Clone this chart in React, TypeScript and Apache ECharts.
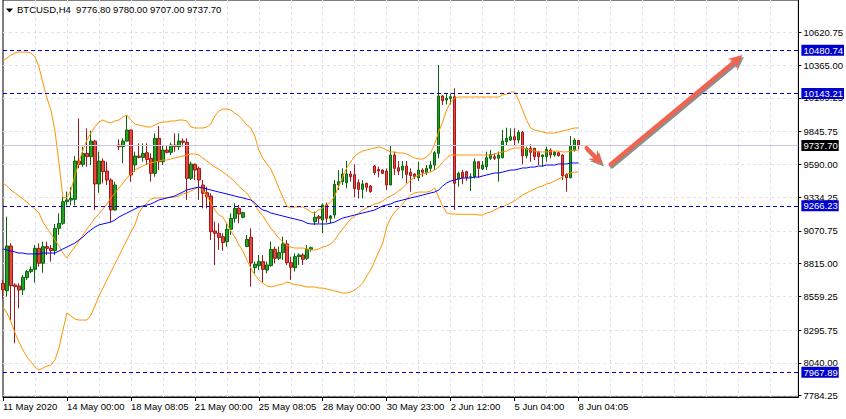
import React, { useEffect, useRef } from 'react';
import * as echarts from 'echarts';

const SYMBOL = 'BTCUSD,H4';
const FONT = '"Liberation Sans", Arial, sans-serif';
const SLOT_COUNT = 200;
const TIME_LABELS = ['11 May 2020', '14 May 00:00', '18 May 08:05', '21 May 00:00', '25 May 08:05', '28 May 00:00', '30 May 23:00', '2 Jun 12:00', '5 Jun 04:00', '8 Jun 04:05'];
const LABEL_STEP = 16;
const GRID_STEP = 8;
const Y_TICKS = [7784.25, 8040.0, 8295.75, 8559.25, 8815.0, 9070.75, 9334.25, 9590.0, 9845.75, 10109.25, 10365.0, 10620.75];
const Y_MIN = 7774.4;
const Y_MAX = 10873;
const LEVELS = [10480.74, 10143.21, 9266.23, 7967.89];

const OPEN = [
  8662, 8604, 8953, 8649, 8641, 8610, 8706, 8753, 8771, 8935,
  8818, 8948, 8935, 8917, 9091, 9130, 9299, 9312, 9317, 9616,
  9590, 9676, 9650, 9772, 9437, 9616, 9538, 9468, 9234, 9741,
  9728, 9772, 9858, 9585, 9655, 9645, 9681, 9637, 9520, 9793,
  9611, 9702, 9684, 9741, 9728, 9772, 9762, 9481, 9590, 9559,
  9429, 9369, 9343, 9070, 9052, 9026, 8987, 9083, 9169, 9247,
  9177, 8948, 9021, 8784, 8800, 8831, 8765, 8800, 8927, 8857,
  8901, 8969, 8823, 8784, 8870, 8883, 8857, 8927, 9143, 9182,
  9156, 9273, 9169, 9195, 9429, 9455, 9447, 9515, 9510, 9447,
  9395, 9442, 9421, 9577, 9551, 9546, 9538, 9429, 9663, 9564,
  9546, 9577, 9528, 9515, 9486, 9546, 9528, 9559, 9585, 9676,
  10124, 10092, 10105, 10118, 9476, 9528, 9533, 9494, 9494, 9611,
  9554, 9572, 9637, 9650, 9637, 9642, 9767, 9780, 9806, 9780,
  9840, 9658, 9715, 9715, 9684, 9650, 9650, 9702, 9663, 9681,
  9663, 9512, 9486, 9702, 9776.8,
];
const HIGH = [
  8690, 9182, 8975, 8662, 8662, 8727, 8766, 8792, 8961, 8974,
  8987, 8987, 8961, 9125, 9208, 9338, 9377, 9411, 9655, 9949,
  9728, 9871, 9853, 9780, 9689, 9637, 9611, 9481, 9455, 9786,
  9793, 9975, 9863, 9689, 9754, 9754, 9754, 9676, 9832, 9890,
  9741, 9741, 9760, 9832, 9832, 9793, 9793, 9611, 9598, 9572,
  9468, 9416, 9364, 9143, 9130, 9052, 9130, 9208, 9286, 9273,
  9221, 9039, 9091, 8831, 8883, 8883, 8831, 8987, 8948, 8948,
  9026, 8999, 8870, 8896, 8896, 8896, 8961, 8948, 9221, 9195,
  9286, 9291, 9195, 9468, 9546, 9559, 9616, 9538, 9590, 9473,
  9468, 9447, 9429, 9585, 9572, 9551, 9559, 9741, 9689, 9616,
  9616, 9616, 9559, 9520, 9611, 9559, 9585, 9616, 9694, 10365,
  10131, 10144, 10144, 10183, 9533, 9547, 9540, 9520, 9637, 9616,
  9616, 9689, 9702, 9676, 9689, 9858, 9876, 9871, 9871, 9858,
  9851, 9728, 9746, 9720, 9694, 9668, 9728, 9715, 9694, 9689,
  9668, 9520, 9811, 9793, 9780.0,
];
const LOW = [
  8540, 8557, 8375, 8193, 8466, 8570, 8688, 8740, 8667, 8792,
  8745, 8883, 8831, 8883, 9039, 9117, 9270, 9270, 9270, 9560,
  9572, 9572, 9585, 9234, 9369, 9442, 9429, 9138, 9230, 9702,
  9598, 9767, 9455, 9533, 9637, 9611, 9585, 9455, 9494, 9546,
  9585, 9676, 9663, 9689, 9702, 9728, 9312, 9468, 9468, 9312,
  9247, 9247, 9000, 8805, 8922, 8916, 8948, 9039, 9135, 9130,
  9169, 8948, 8636, 8740, 8766, 8667, 8740, 8792, 8818, 8844,
  8844, 8805, 8688, 8753, 8805, 8805, 8844, 8909, 9117, 9130,
  9052, 9135, 9130, 9169, 9390, 9429, 9403, 9455, 9333, 9325,
  9325, 9377, 9369, 9507, 9489, 9515, 9390, 9429, 9507, 9507,
  9481, 9442, 9377, 9476, 9460, 9494, 9507, 9533, 9546, 9637,
  10053, 10058, 10058, 9234, 9416, 9435, 9460, 9382, 9481, 9486,
  9546, 9546, 9624, 9624, 9455, 9637, 9741, 9772, 9741, 9754,
  9590, 9637, 9611, 9624, 9585, 9572, 9611, 9637, 9650, 9650,
  9468, 9377, 9481, 9689, 9707.0,
];
const CLOSE = [
  8610, 8953, 8643, 8636, 8610, 8709, 8753, 8771, 8935, 8818,
  8948, 8935, 8917, 9091, 9130, 9299, 9312, 9325, 9616, 9590,
  9676, 9650, 9772, 9437, 9616, 9533, 9468, 9234, 9429, 9728,
  9772, 9858, 9507, 9655, 9645, 9676, 9629, 9520, 9793, 9611,
  9702, 9684, 9741, 9728, 9772, 9762, 9481, 9593, 9546, 9468,
  9364, 9338, 9065, 9052, 9020, 8979, 9083, 9169, 9247, 9203,
  9213, 9005, 8820, 8810, 8831, 8771, 8805, 8927, 8857, 8901,
  8969, 8823, 8787, 8870, 8883, 8849, 8927, 8940, 9177, 9169,
  9273, 9169, 9187, 9434, 9455, 9515, 9515, 9494, 9400, 9395,
  9437, 9411, 9377, 9525, 9538, 9520, 9429, 9663, 9559, 9538,
  9577, 9512, 9502, 9494, 9546, 9528, 9559, 9585, 9681, 10124,
  10087, 10105, 10118, 9442, 9520, 9486, 9486, 9494, 9611, 9559,
  9585, 9642, 9668, 9637, 9663, 9772, 9793, 9806, 9780, 9840,
  9658, 9715, 9684, 9650, 9650, 9663, 9707, 9663, 9684, 9658,
  9502, 9486, 9736, 9780, 9737.7,
];

const BB_UPPER = [
  10397, 10420, 10444, 10459, 10467, 10467, 10467, 10459, 10428, 10350,
  10225, 10108, 10014, 9850, 9600, 9330, 9330, 9390, 9499, 9609,
  9702, 9780, 9835, 9882, 9921, 9936, 9921, 9913, 9929, 9936,
  9960, 9975, 9936, 9905, 9897, 9890, 9882, 9882, 9897, 9913,
  9921, 9921, 9929, 9929, 9936, 9936, 9929, 9882, 9874, 9874,
  9874, 9882, 9905, 9968, 10007, 10022, 10022, 10014, 9991, 9968,
  9936, 9897, 9874, 9812, 9702, 9640, 9593, 9554, 9484, 9406,
  9335, 9265, 9250, 9257, 9257, 9257, 9242, 9218, 9211, 9234,
  9250, 9273, 9296, 9343, 9421, 9491, 9562, 9609, 9655, 9679,
  9694, 9702, 9710, 9718, 9726, 9718, 9702, 9687, 9687, 9679,
  9679, 9671, 9655, 9640, 9632, 9632, 9648, 9679, 9749, 9843,
  9921, 10014, 10077, 10108, 10116, 10116, 10116, 10116, 10116, 10116,
  10116, 10116, 10116, 10116, 10116, 10132, 10139, 10155, 10155, 10092,
  10014, 9936, 9874, 9858, 9851, 9843, 9835, 9835, 9835, 9843,
  9851, 9858, 9866, 9874, 9874,
];
const BB_MIDDLE = [
  9445, 9421, 9390, 9367, 9343, 9320, 9296, 9265, 9242, 9211,
  9140, 9093, 9047, 9000, 8953, 8898, 8859, 8906, 8945, 8992,
  9039, 9086, 9125, 9171, 9203, 9242, 9281, 9328, 9367, 9406,
  9445, 9484, 9515, 9546, 9562, 9577, 9593, 9601, 9609, 9616,
  9624, 9624, 9632, 9640, 9648, 9655, 9663, 9671, 9671, 9663,
  9640, 9616, 9593, 9569, 9554, 9530, 9507, 9484, 9452, 9421,
  9390, 9367, 9320, 9273, 9226, 9187, 9140, 9093, 9054, 9015,
  8984, 8961, 8945, 8937, 8937, 8937, 8930, 8922, 8922, 8930,
  8945, 8953, 8969, 9000, 9047, 9086, 9125, 9164, 9187, 9211,
  9234, 9250, 9265, 9281, 9289, 9304, 9328, 9343, 9359, 9382,
  9406, 9437, 9468, 9491, 9507, 9515, 9523, 9530, 9546, 9569,
  9609, 9640, 9663, 9663, 9663, 9663, 9663, 9663, 9663, 9663,
  9663, 9663, 9663, 9671, 9679, 9687, 9694, 9710, 9718, 9718,
  9718, 9710, 9702, 9694, 9687, 9687, 9687, 9694, 9694, 9694,
  9687, 9687, 9694, 9702, 9702,
];
const BB_LOWER = [
  8477, 8430, 8360, 8274, 8204, 8141, 8087, 8048, 8009, 7985,
  8001, 8016, 8024, 8063, 8157, 8297, 8430, 8407, 8383, 8375,
  8375, 8375, 8414, 8485, 8563, 8625, 8687, 8750, 8812, 8875,
  8937, 9000, 9062, 9117, 9211, 9257, 9289, 9320, 9328, 9328,
  9328, 9328, 9335, 9335, 9343, 9359, 9367, 9382, 9398, 9413,
  9390, 9343, 9289, 9234, 9195, 9179, 9125, 9070, 9023, 8961,
  8914, 8844, 8781, 8727, 8688, 8664, 8641, 8633, 8641, 8649,
  8656, 8672, 8664, 8649, 8649, 8641, 8633, 8633, 8633, 8625,
  8625, 8617, 8610, 8602, 8594, 8586, 8586, 8594, 8610, 8633,
  8664, 8719, 8766, 8836, 8906, 8976, 9101, 9171, 9218, 9250,
  9281, 9320, 9351, 9367, 9374, 9374, 9374, 9382, 9406, 9335,
  9265, 9211, 9203, 9203, 9200, 9200, 9200, 9200, 9200, 9195,
  9195, 9211, 9218, 9234, 9250, 9257, 9273, 9289, 9304, 9328,
  9351, 9367, 9382, 9398, 9413, 9421, 9437, 9445, 9460, 9476,
  9491, 9515, 9523, 9530, 9530,
];
const MA_BLUE = [
  8930, 8922, 8914, 8906, 8898, 8898, 8891, 8891, 8891, 8891,
  8898, 8898, 8898, 8898, 8914, 8930, 8945, 8961, 8976, 9000,
  9023, 9054, 9078, 9101, 9117, 9125, 9132, 9140, 9156, 9179,
  9195, 9211, 9226, 9242, 9257, 9265, 9273, 9281, 9296, 9312,
  9320, 9328, 9335, 9343, 9359, 9374, 9390, 9398, 9406, 9413,
  9406, 9398, 9390, 9382, 9374, 9367, 9359, 9351, 9343, 9335,
  9328, 9320, 9312, 9289, 9257, 9234, 9226, 9211, 9203, 9195,
  9187, 9179, 9171, 9164, 9156, 9148, 9132, 9125, 9125, 9125,
  9125, 9125, 9132, 9140, 9156, 9171, 9179, 9187, 9195, 9203,
  9211, 9218, 9226, 9234, 9250, 9265, 9273, 9281, 9296, 9304,
  9312, 9320, 9328, 9335, 9343, 9351, 9359, 9367, 9374, 9390,
  9421, 9445, 9460, 9468, 9476, 9484, 9484, 9484, 9491, 9491,
  9499, 9507, 9515, 9523, 9523, 9530, 9538, 9546, 9546, 9554,
  9562, 9562, 9569, 9569, 9577, 9577, 9585, 9585, 9585, 9593,
  9593, 9593, 9601, 9601, 9601,
];

// annotation arrows: [fromIndex, fromPrice, toIndex, toPrice]
const ARROWS = [
  [146, 9718, 150, 9590],
  [152, 9590, 185, 10444],
];

const GRID_C = '#e0e0f2';
const LEVEL_C = '#0000cd';
const ARROW_C = '#f4624d';
const BAND_C = '#ff9400';

function arrowShapes(S: number[], T: number[], color: string, dx: number, dy: number) {
  const vx = T[0] - S[0];
  const vy = T[1] - S[1];
  const len = Math.sqrt(vx * vx + vy * vy) || 1;
  const ux = vx / len;
  const uy = vy / len;
  const nx = -uy;
  const ny = ux;
  const headLen = 14;
  const headHalf = 6.5;
  const notch = 9;
  const t = [T[0] + dx, T[1] + dy];
  const s = [S[0] + dx, S[1] + dy];
  const base = [t[0] - ux * notch, t[1] - uy * notch];
  return [
    {
      type: 'line',
      shape: { x1: s[0], y1: s[1], x2: base[0], y2: base[1] },
      style: { stroke: color, lineWidth: 4, lineCap: 'round' },
    },
    {
      type: 'polygon',
      shape: {
        points: [
          t,
          [t[0] - ux * headLen + nx * headHalf, t[1] - uy * headLen + ny * headHalf],
          base,
          [t[0] - ux * headLen - nx * headHalf, t[1] - uy * headLen - ny * headHalf],
        ],
      },
      style: { fill: color },
    },
  ];
}

export default function App() {
  const ref = useRef<HTMLDivElement>(null);
  useEffect(() => {
    if (!ref.current) return;
    const chart = echarts.init(ref.current, undefined, { renderer: 'svg' });
    const n = OPEN.length;
    const last = n - 1;
    const categories = Array.from({ length: SLOT_COUNT }, (_, i) => String(i));
    const labelInterval = (i: number) => i % LABEL_STEP === 0 && i / LABEL_STEP < TIME_LABELS.length;
    const candles = OPEN.map((o, i) => [o, CLOSE[i], LOW[i], HIGH[i]]);
    const titleText = `${SYMBOL}  ${OPEN[last].toFixed(2)} ${HIGH[last].toFixed(2)} ${LOW[last].toFixed(2)} ${CLOSE[last].toFixed(2)}`;

    const levelLabel = (bg: string) => ({
      show: true,
      position: 'end',
      distance: 3,
      formatter: (p: any) => Number(p.value).toFixed(2),
      color: '#ffffff',
      backgroundColor: bg,
      padding: [1, 1, 0, 2],
      fontSize: 9.5,
      fontFamily: FONT,
    });

    const line = (name: string, data: number[], color: string) => ({
      name,
      type: 'line',
      data,
      showSymbol: false,
      symbol: 'none',
      silent: true,
      z: 3,
      lineStyle: { color, width: 1 },
    });

    chart.setOption({
      animation: false,
      backgroundColor: '#ffffff',
      title: {
        text: titleText,
        left: 17,
        top: 4,
        padding: 0,
        textStyle: { fontSize: 9.5, fontWeight: 'normal', color: '#000', fontFamily: FONT },
      },
      graphic: [
        {
          type: 'polygon',
          shape: { points: [[6, 8.5], [13, 8.5], [9.5, 12.5]] },
          style: { fill: '#000' },
        },
      ],
      grid: {
        left: 3,
        right: 46,
        top: 0,
        bottom: 22,
        show: true,
        borderColor: '#000',
        borderWidth: 1,
        backgroundColor: '#ffffff',
      },
      xAxis: {
        type: 'category',
        data: categories,
        boundaryGap: false,
        axisLine: { show: true, lineStyle: { color: '#000', width: 1 } },
        axisTick: { show: true, length: 4, interval: labelInterval, lineStyle: { color: '#000' } },
        axisLabel: {
          interval: labelInterval,
          formatter: (_v: string, idx: number) => TIME_LABELS[Math.round(idx / LABEL_STEP)] ?? '',
          align: 'left',
          margin: 4,
          color: '#000',
          fontSize: 9.5,
          fontFamily: FONT,
        },
        splitLine: {
          show: true,
          interval: (i: number) => i > 0 && i % GRID_STEP === 0,
          lineStyle: { color: GRID_C, type: [3, 3], width: 1 },
        },
      },
      yAxis: {
        type: 'value',
        position: 'right',
        min: Y_MIN,
        max: Y_MAX,
        axisLine: { show: true, lineStyle: { color: '#000', width: 1 } },
        axisTick: { show: true, length: 3, customValues: Y_TICKS, lineStyle: { color: '#000' } },
        axisLabel: {
          customValues: Y_TICKS,
          formatter: (v: number) => v.toFixed(2),
          color: '#000',
          fontSize: 9.5,
          fontFamily: FONT,
          margin: 5,
        },
        splitLine: { show: true, lineStyle: { color: GRID_C, type: [3, 3], width: 1 } },
      },
      series: [
        {
          name: 'BTCUSD',
          type: 'candlestick',
          data: candles,
          barWidth: 3,
          z: 2,
          itemStyle: {
            color: '#22a322',
            color0: '#e8473f',
            borderColor: '#0b650b',
            borderColor0: '#a01818',
            borderWidth: 1,
          },
          markLine: {
            silent: true,
            symbol: 'none',
            animation: false,
            data: [
              ...LEVELS.map((v) => ({
                yAxis: v,
                lineStyle: { color: LEVEL_C, type: [4, 3], width: 1 },
                label: levelLabel(LEVEL_C),
              })),
              {
                yAxis: CLOSE[last],
                lineStyle: { color: '#c9c9de', type: 'solid', width: 1 },
                label: levelLabel('#000000'),
              },
            ],
          },
        },
        line('BB upper', BB_UPPER, BAND_C),
        line('BB middle', BB_MIDDLE, BAND_C),
        line('BB lower', BB_LOWER, BAND_C),
        line('MA', MA_BLUE, '#0000ff'),
        {
          name: 'arrows',
          type: 'custom',
          silent: true,
          clip: false,
          z: 10,
          data: ARROWS,
          renderItem: (_params: any, api: any) => {
            const S = api.coord([api.value(0), api.value(1)]);
            const T = api.coord([api.value(2), api.value(3)]);
            return {
              type: 'group',
              children: [
                ...arrowShapes(S, T, '#8e8e8e', 1.5, 2),
                ...arrowShapes(S, T, ARROW_C, 0, 0),
              ],
            };
          },
        },
      ],
    });
    return () => chart.dispose();
  }, []);
  return <div ref={ref} style={{ position: 'fixed', left: 0, top: 0, width: 846, height: 419 }} />;
}
